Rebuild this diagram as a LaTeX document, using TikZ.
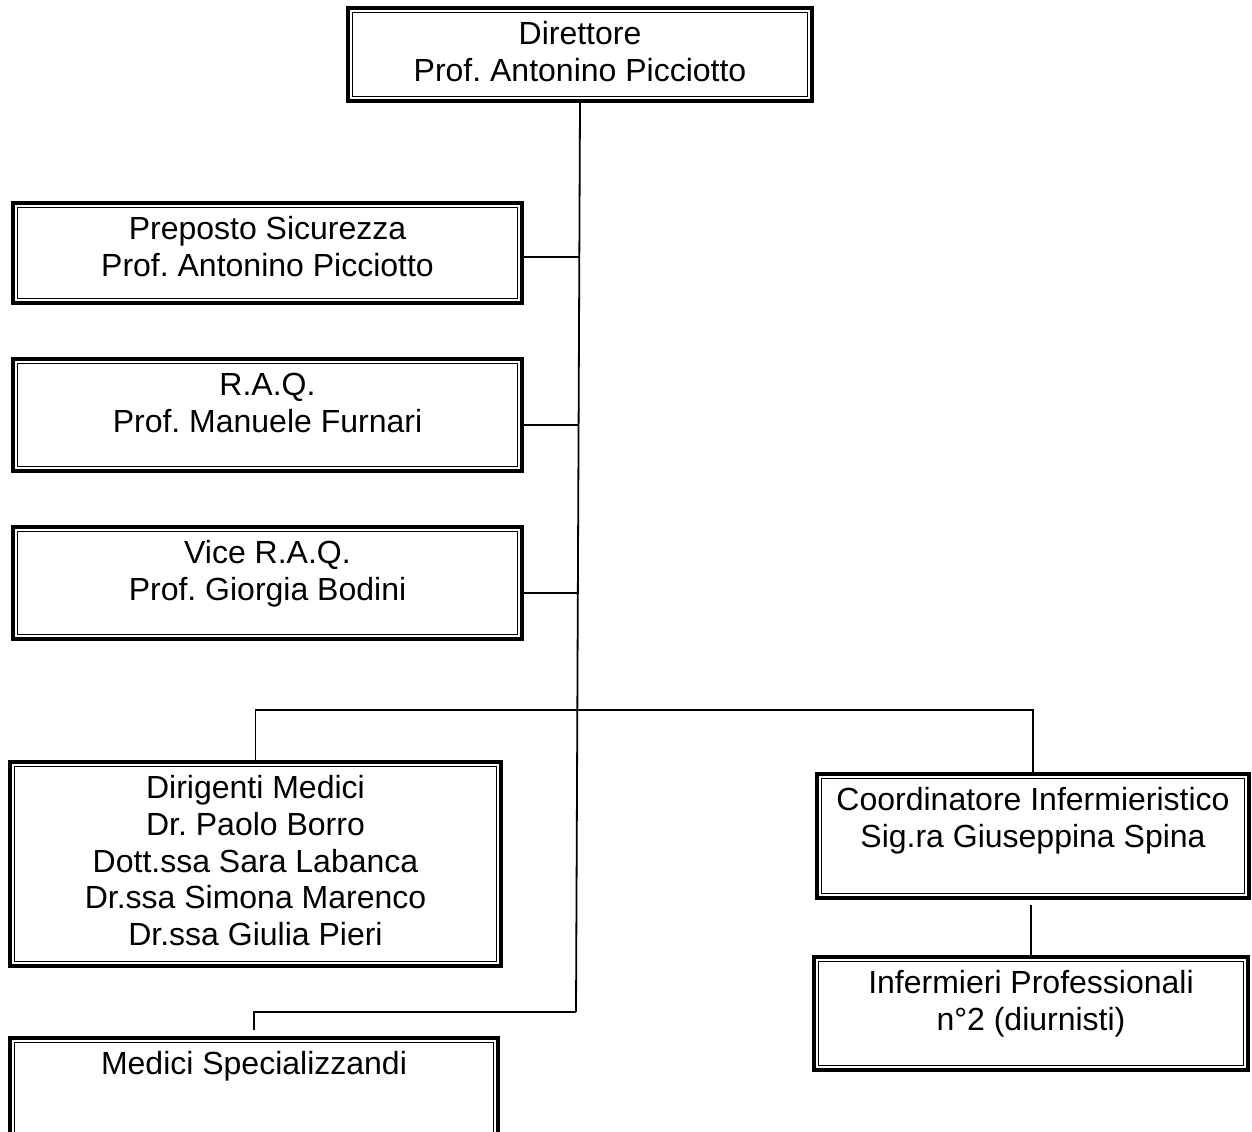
\documentclass[tikz,border=0pt]{standalone}
\usepackage{fontspec}
\setmainfont{Liberation Sans}
\usetikzlibrary{positioning,calc}
\frenchspacing

\newcommand{\boxlines}[3]{\parbox[c][#2][t]{#1}{\centering\vspace*{5.5pt}\strut#3}}

\tikzset{
    orgbox/.style={draw, line width=1.75pt, inner sep=0pt,
        font=\fontsize{16}{18.4}\selectfont,
        path picture={\draw[line width=0.5pt]
            ([shift={(2.2pt,-2.2pt)}]path picture bounding box.north west) rectangle
            ([shift={(-2.2pt,2.2pt)}]path picture bounding box.south east);}},
    link/.style={line width=0.9pt}
}

\begin{document}
\begin{tikzpicture}[x=0.5pt,y=-0.5pt]
    \useasboundingbox (0,0) rectangle (1252,1131);
    \clip (0,0) rectangle (1252,1131);
    % boxes
    \node[orgbox] (dir) at (580,54.5) {\boxlines{232.2pt}{46.7pt}{Direttore\\Prof. Antonino Picciotto}};
    \node[orgbox] (prep) at (267.5,253) {\boxlines{254.7pt}{50.2pt}{Preposto Sicurezza\\Prof. Antonino Picciotto}};
    \node[orgbox] (raq) at (267.5,415) {\boxlines{254.7pt}{56.2pt}{R.A.Q.\\Prof. Manuele Furnari}};
    \node[orgbox] (vraq) at (267.5,583) {\boxlines{254.7pt}{56.2pt}{Vice R.A.Q.\\Prof. Giorgia Bodini}};
    \node[orgbox] (dirig) at (255.5,864) {\boxlines{245.7pt}{102.2pt}{Dirigenti Medici\\Dr. Paolo Borro\\Dott.ssa Sara Labanca\\Dr.ssa Simona Marenco\\Dr.ssa Giulia Pieri}};
    \node[orgbox] (spec) at (254,1106) {\boxlines{244.2pt}{68.2pt}{Medici Specializzandi}};
    \node[orgbox] (coord) at (1033,836) {\boxlines{216.2pt}{62.2pt}{Coordinatore Infermieristico\\Sig.ra Giuseppina Spina}};
    \node[orgbox] (inf) at (1031,1013.5) {\boxlines{217.2pt}{56.7pt}{Infermieri Professionali\\n°2 (diurnisti)}};
    % trunk
    \coordinate (j1) at (579.3,257);
    \coordinate (j2) at (578.6,425);
    \coordinate (j3) at (577.8,593);
    \coordinate (j4) at (577.3,710);
    \coordinate (tend) at (576,1012);
    \draw[link] (dir.south) -- (tend);
    \foreach \b/\j in {prep/j1, raq/j2, vraq/j3}
        \draw[link] (\b.east |- \j) -- (\j);
    \draw[link] (dirig.north) |- (j4) -| (coord.north);
    \draw[link] (tend) -| ([yshift=3pt]spec.north);
    \draw[link, shorten >=2.5pt] (inf.north) -- (inf.north |- coord.south);
\end{tikzpicture}
\end{document}
